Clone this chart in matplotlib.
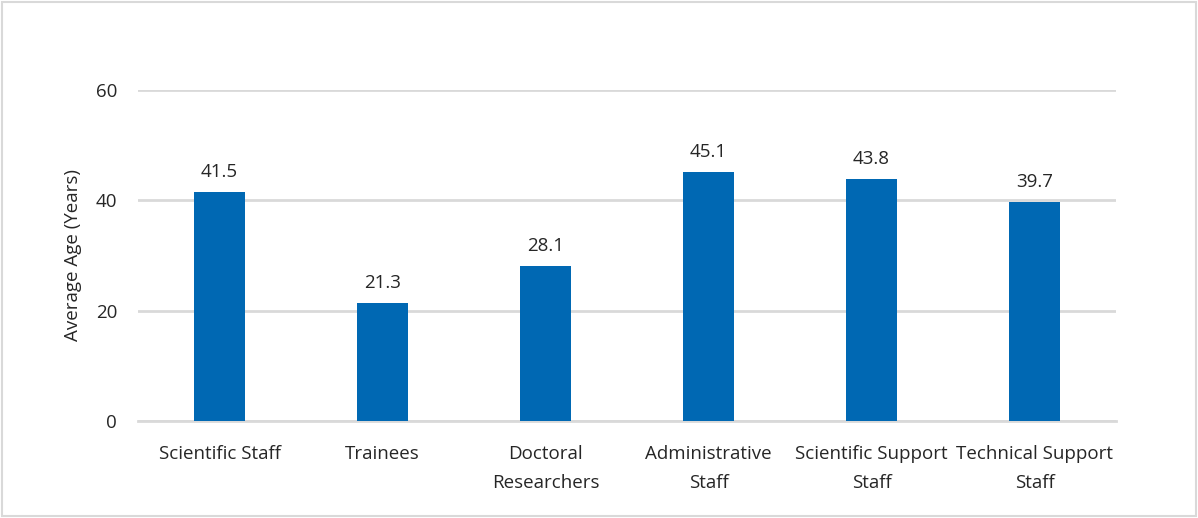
import matplotlib.pyplot as plt
from matplotlib.patches import Rectangle

categories = ['Scientific Staff', 'Trainees', 'Doctoral\nResearchers',
              'Administrative\nStaff', 'Scientific Support\nStaff',
              'Technical Support\nStaff']
avg_age = [41.5, 21.3, 28.1, 45.1, 43.8, 39.7]
y_ticks = [0, 20, 40, 60]

plt.rcParams['font.family'] = ['Open Sans', 'DejaVu Sans']
fs = 13.5

fig = plt.figure(figsize=(11.98, 5.18), dpi=100)
ax = fig.add_axes([0.1152, 0.1873, 0.8164, 0.639])

# outer frame of the chart area
fig.patches.append(Rectangle((0.002, 0.003), 0.996, 0.994, transform=fig.transFigure,
                             fill=False, edgecolor='#d9d9d9', linewidth=1.5))

x = range(len(categories))
bars = ax.bar(x, avg_age, width=0.31, color='#0068B3', zorder=3)
for rect, val in zip(bars, avg_age):
    ax.annotate(f'{val}', (rect.get_x() + rect.get_width() / 2, val),
                xytext=(0, 8), textcoords='offset points',
                ha='center', va='bottom', fontsize=fs, color='#262626')

ax.set_xlim(-0.5, len(categories) - 0.5)
ax.set_ylim(0, 60)
ax.set_yticks(y_ticks)
ax.set_xticks(list(x))
ax.set_xticklabels(categories, fontsize=fs, color='#262626', linespacing=1.8)
ax.tick_params(axis='y', labelsize=fs, labelcolor='#262626', length=0, pad=15)
ax.tick_params(axis='x', length=0, pad=17)
ax.yaxis.grid(True, color='#d9d9d9', linewidth=2, zorder=0)
ax.set_axisbelow(True)

for side in ['top', 'right', 'left']:
    ax.spines[side].set_visible(False)
ax.spines['bottom'].set_color('#d9d9d9')
ax.spines['bottom'].set_linewidth(2)

ax.set_ylabel('Average Age (Years)', fontsize=fs, color='#262626', labelpad=10)

fig.savefig('out.png', dpi=100)
